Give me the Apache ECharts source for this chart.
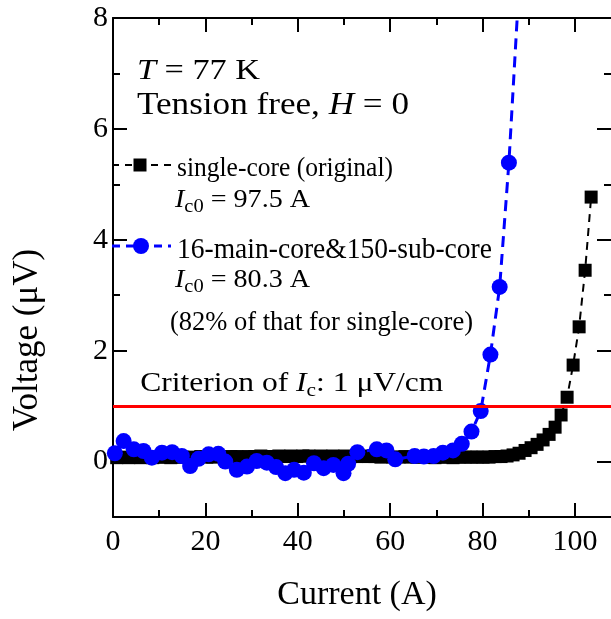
<!DOCTYPE html>
<html><head><meta charset="utf-8">
<script src="https://cdn.jsdelivr.net/npm/echarts@6/dist/echarts.min.js"></script>
<style>html,body{margin:0;padding:0;background:#fff}#c{width:611px;height:619px}</style>
</head><body><div id="c"></div>
<script>
// ---- data ----
const singleCurrent = [0.8,2.1,3.4,4.7,6.0,7.3,8.6,9.9,11.2,12.5,13.8,15.1,16.4,17.7,19.0,20.3,21.6,22.9,24.2,25.5,26.8,28.1,29.4,30.7,32.0,33.3,34.6,35.9,37.2,38.5,39.8,41.1,42.4,43.7,45.0,46.3,47.6,48.9,50.2,51.5,52.8,54.1,55.4,56.7,58.0,59.3,60.6,61.9,63.2,64.5,65.8,67.1,68.4,69.7,71.0,72.3,73.6,74.9,76.2,77.5,78.8,80.1,81.4,82.7,84.0,85.3,86.6,87.9,89.2,90.5,91.8,93.1,94.4,95.7,97.0,98.3,99.6,100.9,102.2,103.5];
const singleVoltage = [0.07,0.08,0.07,0.08,0.07,0.08,0.07,0.08,0.08,0.07,0.08,0.08,0.07,0.08,0.09,0.08,0.08,0.09,0.08,0.09,0.09,0.08,0.09,0.09,0.10,0.09,0.09,0.10,0.09,0.10,0.09,0.10,0.10,0.09,0.10,0.09,0.10,0.09,0.10,0.09,0.09,0.10,0.09,0.09,0.08,0.09,0.08,0.08,0.09,0.08,0.08,0.08,0.08,0.07,0.08,0.08,0.07,0.08,0.08,0.08,0.08,0.08,0.08,0.09,0.09,0.10,0.12,0.15,0.20,0.25,0.31,0.39,0.49,0.62,0.84,1.16,1.74,2.43,3.45,4.77];
const multiCurrent = [0.4,2.3,4.5,6.6,8.4,10.6,12.8,14.9,16.7,18.5,20.7,22.8,24.3,26.8,29.0,31.1,33.3,35.3,37.3,39.2,41.3,43.5,45.6,47.7,49.9,50.9,52.9,57.1,59.2,61.1,65.3,67.3,69.4,71.4,73.6,75.5,77.6,79.6,81.7,83.7,85.7,87.7];
const multiVoltage = [0.15,0.37,0.22,0.19,0.07,0.16,0.17,0.10,-0.08,0.05,0.13,0.14,0.00,-0.15,-0.09,0.01,-0.02,-0.10,-0.21,-0.15,-0.20,-0.03,-0.12,-0.06,-0.21,-0.04,0.17,0.22,0.20,0.04,0.10,0.09,0.10,0.16,0.20,0.32,0.54,0.91,1.93,3.15,5.39,8.3];
const criterionVoltage = 1;
const xMajorTicks = [0,20,40,60,80,100];
const xMinorTicks = [10,30,50,70,90];
const yMajorTicks = [0,2,4,6,8];
const yMinorTicks = [1,3,5,7];
const xRange = [0, 107.8];
const yRange = [-1, 8];

const FONT = '"Liberation Serif", "Times New Roman", serif';
const pair = (xs, ys) => xs.map((x, i) => [x, ys[i]]);

// ---- text helper for annotation lines ----
const mctx = document.createElement('canvas').getContext('2d');
function fontStr(s, it) { return (it ? 'italic ' : '') + s + 'px ' + FONT; }
function textLine(x, baseline, segs, target) {
  let nat = 0;
  segs.forEach(g => { mctx.font = fontStr(g.s, g.i); g.w = mctx.measureText(g.t).width; nat += g.w; });
  const sx = target ? target / nat : 1;
  const els = [];
  let cx = x;
  segs.forEach(g => {
    els.push({
      type: 'text', x: cx, y: baseline + (g.dy || 0) - 0.34 * g.s, scaleX: sx, z: 10,
      style: { text: g.t, font: fontStr(g.s, g.i), fill: '#000', align: 'left', verticalAlign: 'middle', textAlign: 'left', textVerticalAlign: 'middle' }
    });
    cx += g.w * sx;
  });
  return els;
}

const graphics = [].concat(
  textLine(137, 81.7, [{t:'T', s:30, i:true}, {t:' = 77 K', s:30}], 123),
  textLine(137, 116, [{t:'Tension free, ', s:31}, {t:'H', s:31, i:true}, {t:' = 0', s:31}], 272),
  textLine(177, 178.3, [{t:'single-core (original)', s:28}], 216),
  textLine(175, 209, [{t:'I', s:26, i:true}, {t:'c0', s:19, dy:4.5}, {t:' = 97.5 A', s:26}], 135),
  textLine(177, 260, [{t:'16-main-core&150-sub-core', s:29}], 315),
  textLine(175, 289, [{t:'I', s:26, i:true}, {t:'c0', s:19, dy:4.5}, {t:' = 80.3 A', s:26}], 135),
  textLine(170, 331.7, [{t:'(82% of that for single-core)', s:27}], 303),
  textLine(140.3, 393.3, [{t:'Criterion of ', s:28}, {t:'I', s:28, i:true}, {t:'c', s:19, dy:4.5}, {t:': 1 \u03bcV/cm', s:28}], 303),
  [
    {type:'line', z:9, shape:{x1:112, y1:165, x2:171, y2:165}, style:{stroke:'#000', lineWidth:2, lineDash:[7,6]}},
    {type:'rect', z:10, shape:{x:133.5, y:158.5, width:13, height:13}, style:{fill:'#000'}},
    {type:'line', z:9, shape:{x1:112, y1:246, x2:171, y2:246}, style:{stroke:'#0000ff', lineWidth:3, lineDash:[8,6]}},
    {type:'circle', z:10, shape:{cx:141, cy:246, r:8}, style:{fill:'#0000ff'}}
  ]
);

const axisText = { color:'#000', fontFamily: FONT, fontSize: 30 };
const lineStyleAxis = { color:'#000', width: 2 };

const chart = echarts.init(document.getElementById('c'), null, { renderer: 'canvas' });
chart.setOption({
  animation: false,
  backgroundColor: '#fff',
  grid: { left: 113, right: 0, top: 18, bottom: 102, containLabel: false, outerBoundsMode: 'none' },
  xAxis: [
    { type:'value', position:'bottom', min:xRange[0], max:xRange[1],
      name:'Current (A)', nameLocation:'middle', nameGap: 61,
      nameTextStyle:{ color:'#000', fontFamily: FONT, fontSize: 34, padding:[0, 10, 0, 0] },
      axisLine:{ show:true, onZero:false, lineStyle: lineStyleAxis },
      axisTick:{ show:true, inside:true, length:14, lineStyle: lineStyleAxis, customValues: xMajorTicks },
      axisLabel:{ ...axisText, margin: 10, customValues: xMajorTicks },
      splitLine:{ show:false } },
    { type:'value', position:'top', min:xRange[0], max:xRange[1],
      axisLine:{ show:true, onZero:false, lineStyle: lineStyleAxis },
      axisTick:{ show:true, inside:true, length:14, lineStyle: lineStyleAxis, customValues: xMajorTicks },
      axisLabel:{ show:false }, splitLine:{ show:false } },
    { type:'value', position:'bottom', min:xRange[0], max:xRange[1],
      axisLine:{ show:false, onZero:false },
      axisTick:{ show:true, inside:true, length:7, lineStyle: lineStyleAxis, customValues: xMinorTicks },
      axisLabel:{ show:false }, splitLine:{ show:false } },
    { type:'value', position:'top', min:xRange[0], max:xRange[1],
      axisLine:{ show:false, onZero:false },
      axisTick:{ show:true, inside:true, length:7, lineStyle: lineStyleAxis, customValues: xMinorTicks },
      axisLabel:{ show:false }, splitLine:{ show:false } }
  ],
  yAxis: [
    { type:'value', position:'left', min:yRange[0], max:yRange[1],
      name:'Voltage (\u03bcV)', nameLocation:'middle', nameGap: 68,
      nameTextStyle:{ color:'#000', fontFamily: FONT, fontSize: 35, padding:[0, 145, 0, 0] },
      axisLine:{ show:true, onZero:false, lineStyle: lineStyleAxis },
      axisTick:{ show:true, inside:true, length:14, lineStyle: lineStyleAxis, customValues: yMajorTicks },
      axisLabel:{ ...axisText, margin: 5, customValues: yMajorTicks },
      splitLine:{ show:false } },
    { type:'value', position:'right', min:yRange[0], max:yRange[1],
      axisLine:{ show:false, onZero:false },
      axisTick:{ show:true, inside:true, length:14, lineStyle: lineStyleAxis, customValues: yMajorTicks },
      axisLabel:{ show:false }, splitLine:{ show:false } },
    { type:'value', position:'left', min:yRange[0], max:yRange[1],
      axisLine:{ show:false, onZero:false },
      axisTick:{ show:true, inside:true, length:7, lineStyle: lineStyleAxis, customValues: yMinorTicks },
      axisLabel:{ show:false }, splitLine:{ show:false } },
    { type:'value', position:'right', min:yRange[0], max:yRange[1],
      axisLine:{ show:false, onZero:false },
      axisTick:{ show:true, inside:true, length:7, lineStyle: lineStyleAxis, customValues: yMinorTicks },
      axisLabel:{ show:false }, splitLine:{ show:false } }
  ],
  series: [
    { name:'single-core (original)', type:'line', z:2, xAxisIndex:0, yAxisIndex:0,
      data: pair(singleCurrent, singleVoltage),
      symbol:'rect', symbolSize:13, showAllSymbol:true, clip:true,
      itemStyle:{ color:'#000' }, lineStyle:{ color:'#000', width:2, type:[8,6] } },
    { name:'criterion', type:'line', z:3, xAxisIndex:0, yAxisIndex:0, data:[],
      markLine:{ silent:true, symbol:['none','none'], label:{show:false},
        lineStyle:{ color:'#ff0000', width:3, type:'solid' },
        data:[{ yAxis: criterionVoltage }] } },
    { name:'16-main-core&150-sub-core', type:'line', z:4, xAxisIndex:0, yAxisIndex:0,
      data: pair(multiCurrent, multiVoltage),
      symbol:'circle', symbolSize:16, showAllSymbol:true, clip:true,
      itemStyle:{ color:'#0000ff' }, lineStyle:{ color:'#0000ff', width:3, type:[11,7] } }
  ],
  graphic: graphics
});
</script></body></html>
